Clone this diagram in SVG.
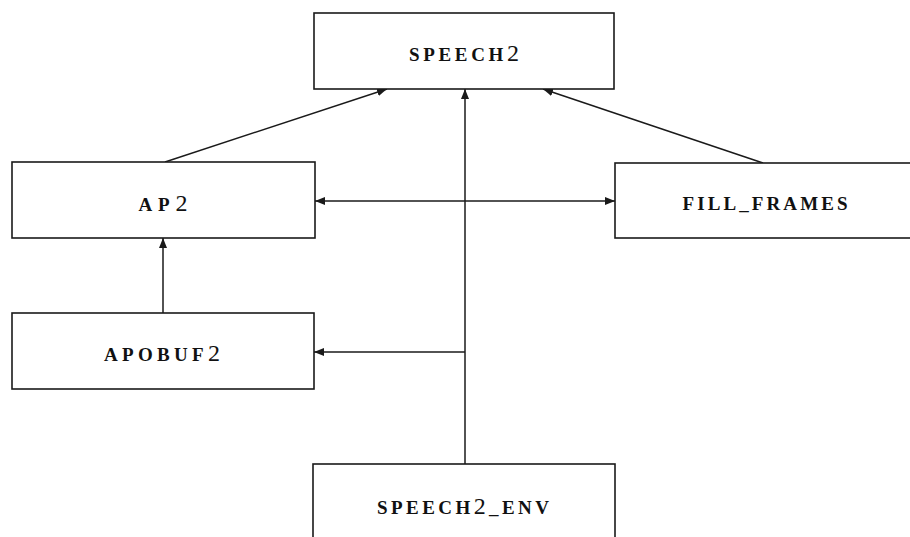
<svg xmlns="http://www.w3.org/2000/svg" width="910" height="537" viewBox="0 0 910 537">
  <style>
    .box { fill: #ffffff; stroke: #1a1a1a; stroke-width: 1.6; }
    .lbl { font-family: "Liberation Serif", "DejaVu Serif", serif; font-size: 19px; font-weight: bold; fill: #111111; text-anchor: middle; }
    .big { font-size: 24px; font-weight: normal; }
    .edge { fill: none; stroke: #1a1a1a; stroke-width: 1.5; }
  </style>
  <defs>
    <marker id="arrow" viewBox="0 0 10 8" refX="10" refY="4" markerWidth="10" markerHeight="8" markerUnits="userSpaceOnUse" orient="auto-start-reverse">
      <path d="M0,0 L10,4 L0,8 Z" fill="#1a1a1a"/>
    </marker>
  </defs>
  <rect width="910" height="537" fill="#ffffff"/>

  <g id="connectors">
    <!-- AP2 -> SPEECH2 -->
    <line class="edge" x1="165" y1="162" x2="387" y2="89" marker-end="url(#arrow)"/>
    <!-- FILL_FRAMES -> SPEECH2 -->
    <line class="edge" x1="763" y1="163" x2="543" y2="89" marker-end="url(#arrow)"/>
    <!-- SPEECH2_ENV -> SPEECH2 -->
    <line class="edge" x1="465" y1="464" x2="465" y2="89" marker-end="url(#arrow)"/>
    <!-- AP2 <-> FILL_FRAMES -->
    <line class="edge" x1="315" y1="201" x2="615" y2="201" marker-start="url(#arrow)" marker-end="url(#arrow)"/>
    <!-- SPEECH2_ENV -> APOBUF2 -->
    <line class="edge" x1="465" y1="352" x2="314" y2="352" marker-end="url(#arrow)"/>
    <!-- APOBUF2 -> AP2 -->
    <line class="edge" x1="163" y1="313" x2="163" y2="238" marker-end="url(#arrow)"/>
  </g>

  <g id="speech2">
    <rect class="box" x="314" y="13" width="300" height="76"/>
    <text class="lbl" x="464" y="61" textLength="110" lengthAdjust="spacing">SPEECH<tspan class="big">2</tspan></text>
  </g>

  <g id="ap2">
    <rect class="box" x="12" y="162" width="303" height="76"/>
    <text class="lbl" x="163" y="211" textLength="49" lengthAdjust="spacing">AP<tspan class="big">2</tspan></text>
  </g>

  <g id="fill_frames">
    <rect class="box" x="615" y="163" width="298" height="75"/>
    <text class="lbl" x="765" y="210" textLength="165" lengthAdjust="spacing">FILL_FRAMES</text>
  </g>

  <g id="apobuf2">
    <rect class="box" x="12" y="313" width="302" height="76"/>
    <text class="lbl" x="162" y="361" textLength="116" lengthAdjust="spacing">APOBUF<tspan class="big">2</tspan></text>
  </g>

  <g id="speech2_env">
    <rect class="box" x="313" y="464" width="302" height="80"/>
    <text class="lbl" x="463" y="514" textLength="172" lengthAdjust="spacing">SPEECH<tspan class="big">2</tspan>_ENV</text>
  </g>
</svg>
